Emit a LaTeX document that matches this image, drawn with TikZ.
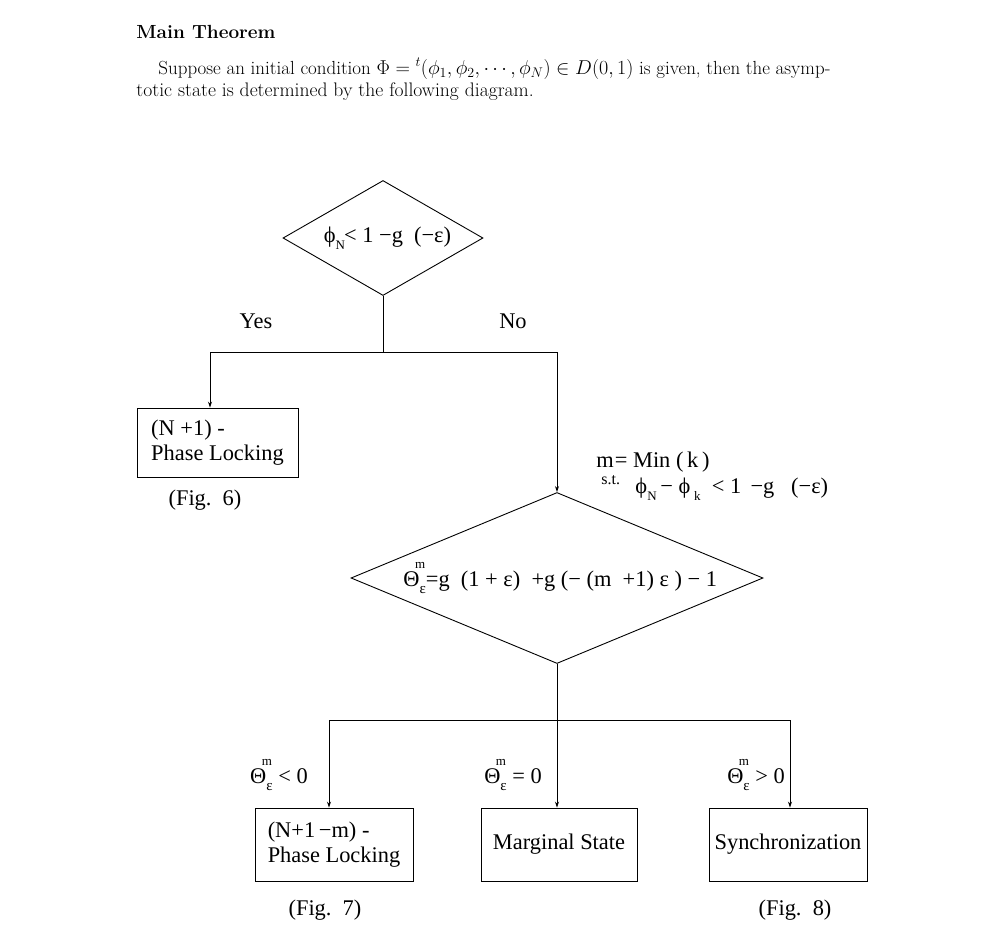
\documentclass[tikz,border=0pt]{standalone}
\usepackage{fontspec}
\newfontfamily\tnr{Liberation Serif}
\usetikzlibrary{shapes.geometric,arrows.meta}
\newcommand\lo[1]{\raisebox{-0.3em}{\fontsize{13}{13}\selectfont #1}}
\newcommand\thm{Θ\makebox[0pt][l]{\hspace{-0.2em}\raisebox{0.8em}{\fontsize{13}{13}\selectfont m}}\raisebox{-0.3em}{\fontsize{15}{15}\selectfont ε}}
\begin{document}
\begin{tikzpicture}[x=1pt,y=-1pt,
  line width=0.9pt,
  dtext/.style={font=\tnr\fontsize{22.4}{25}\selectfont, inner sep=0pt},
  htext/.style={font=\fontsize{19.6}{22}\selectfont, inner sep=0pt, anchor=base west},
  dia/.style={draw, diamond, inner sep=0pt},
  boxn/.style={draw, rectangle, inner sep=0pt, align=left, font=\tnr\fontsize{22.4}{25}\selectfont},
  arr/.style={-{Stealth[length=6pt,width=4pt]}}]
\useasboundingbox (0,0) rectangle (1000,950);
% header
\node[htext, font=\fontsize{19}{22}\selectfont] (title) at (136,39) {\bfseries Main Theorem};
\node[htext] (l1) at (158,74) {\resizebox{672pt}{!}{Suppose an initial condition $\Phi={}^t(\phi_1,\phi_2,\cdots,\phi_N)\in D(0,1)$ is given, then the asymp-}};
\node[htext] (l2) at (136,96) {totic state is determined by the following diagram.};
% first decision
\node[dia, minimum width=200pt, minimum height=115pt] (d1) at (383,238) {};
\node[dtext] (d1t) at (387.5,238) {ϕ\lo{N}\kern-1pt< 1\ −g\ \ (−ε)};
\coordinate (j1) at (383,352);
\coordinate (xa) at (210,0);
\node[boxn, minimum width=161pt, minimum height=69pt] (b1) at (217.5,442.5) {(N +1) -\\Phase Locking};
\node[dtext] (yes) at (256,321) {Yes};
\node[dtext] (no) at (513,321) {No};
\node[dtext] (f6) at (205,500) {(Fig.\ \ 6)};
% second decision
\node[dia, minimum width=412pt, minimum height=171pt] (d2) at (557,578) {};
\node[dtext, anchor=west] (d2t) at (403,578) {\thm=g\ \ (1 + ε)\ \ +g (−\ (m\ \ +1) ε\ )\ −\ 1};
\node[dtext, anchor=west] (mm) at (596,462) {m\kern1pt=\ Min\ (\,k\,)};
\node[inner sep=0pt, anchor=west, font=\tnr\fontsize{16}{16}\selectfont] (st) at (601,480) {s.t.};
\node[dtext, anchor=west] (cond) at (635,489) {ϕ\lo{N}\,−\ ϕ\,\lo{k}\ \ <\ 1\ \,−g\ \ \ (−ε)};
\draw (d1.south) -- (j1);
\draw[arr] (j1) -| (b1.north -| xa);
\draw[arr] (j1) -| (d2.north);
% bottom
\coordinate (j2) at (557,720);
\coordinate (xl) at (329,0);
\coordinate (xr) at (790,0);
\node[boxn, minimum width=158pt, minimum height=73pt] (b2) at (334,844.5) {(N+1\,−m) -\\Phase Locking};
\node[boxn, minimum width=156pt, minimum height=73pt] (b3) at (559,844.5) {Marginal State};
\node[boxn, minimum width=158pt, minimum height=73pt] (b4) at (788,844.5) {Synchronization};
\draw (d2.south) -- (j2);
\draw[arr] (j2) -| (b2.north -| xl);
\draw[arr] (j2) -- (b3.north -| j2);
\draw[arr] (j2) -| (b4.north -| xr);
\node[dtext] (c1) at (279,775) {\thm\ <\ 0};
\node[dtext] (c2) at (513,775) {\thm\ =\ 0};
\node[dtext] (c3) at (756,775) {\thm\ >\ 0};
\node[dtext] (f7) at (325,910) {(Fig.\ \ 7)};
\node[dtext] (f8) at (795,910) {(Fig.\ \ 8)};
\end{tikzpicture}
\end{document}
